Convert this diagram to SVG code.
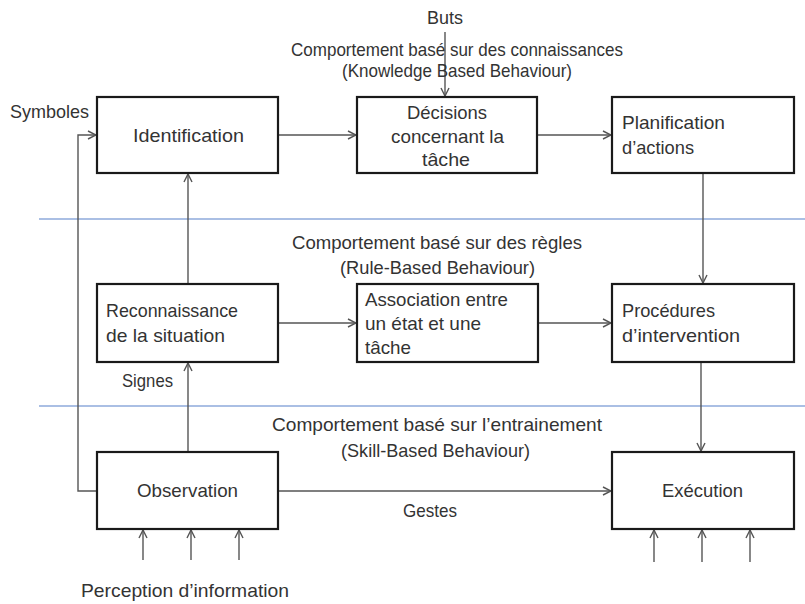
<svg xmlns="http://www.w3.org/2000/svg" width="805" height="604" viewBox="0 0 805 604">
  <style>
    .box { fill: #ffffff; stroke: #1a1a1a; stroke-width: 2.2; }
    .t { font-family: "Liberation Sans", Arial, sans-serif; font-size: 18.5px; fill: #333333; }
    .c { text-anchor: middle; }
    .conn { fill: none; stroke: #555555; stroke-width: 1.4; }
    .band { stroke: #8eaadb; stroke-width: 1.6; }
  </style>
  <defs>
    <marker id="arrow" viewBox="0 0 10 10" refX="10" refY="5" markerWidth="10" markerHeight="10" markerUnits="userSpaceOnUse" orient="auto">
      <path d="M2,1 L10,5 L2,9" fill="none" stroke="#555555" stroke-width="1.4"/>
    </marker>
  </defs>

  <rect width="805" height="604" fill="#ffffff"/>

  <!-- level separators -->
  <g id="bands">
    <line class="band" x1="39" y1="219" x2="805" y2="219"/>
    <line class="band" x1="39" y1="406" x2="805" y2="406"/>
  </g>

  <!-- connectors -->
  <g id="connectors" class="conn" marker-end="url(#arrow)">
    <path d="M445,32 V96"/>
    <path d="M278,135 H356"/>
    <path d="M537,135 H611"/>
    <path d="M703,173 V283"/>
    <path d="M188,284 V174"/>
    <path d="M97,491 H78 V135 H96"/>
    <path d="M278,323 H356"/>
    <path d="M538,323 H611"/>
    <path d="M188,452 V363"/>
    <path d="M701,362 V451"/>
    <path d="M278,491 H611"/>
    <path d="M143,560 V530"/>
    <path d="M191,560 V530"/>
    <path d="M239,560 V530"/>
    <path d="M654,562 V530"/>
    <path d="M702,562 V530"/>
    <path d="M750,562 V530"/>
  </g>

  <!-- level captions -->
  <g id="labels">
    <text class="t" x="427" y="24" textLength="36" lengthAdjust="spacingAndGlyphs">Buts</text>
    <text class="t" x="291" y="56" textLength="332" lengthAdjust="spacingAndGlyphs">Comportement basé sur des connaissances</text>
    <text class="t" x="342" y="77" textLength="230" lengthAdjust="spacingAndGlyphs">(Knowledge Based Behaviour)</text>
    <text class="t" x="10" y="118" textLength="79" lengthAdjust="spacingAndGlyphs">Symboles</text>
    <text class="t" x="292" y="249" textLength="290" lengthAdjust="spacingAndGlyphs">Comportement basé sur des règles</text>
    <text class="t" x="340" y="274" textLength="195" lengthAdjust="spacingAndGlyphs">(Rule-Based Behaviour)</text>
    <text class="t" x="122" y="387" textLength="51" lengthAdjust="spacingAndGlyphs">Signes</text>
    <text class="t" x="272" y="431" textLength="330" lengthAdjust="spacingAndGlyphs">Comportement basé sur l’entrainement</text>
    <text class="t" x="341" y="457" textLength="189" lengthAdjust="spacingAndGlyphs">(Skill-Based Behaviour)</text>
    <text class="t" x="403" y="517" textLength="54" lengthAdjust="spacingAndGlyphs">Gestes</text>
    <text class="t" x="81" y="597" textLength="208" lengthAdjust="spacingAndGlyphs">Perception d’information</text>
  </g>

  <!-- knowledge level -->
  <g id="identification">
    <rect class="box" x="97" y="97" width="181" height="76"/>
    <text class="t" x="133" y="142" textLength="111" lengthAdjust="spacingAndGlyphs">Identification</text>
  </g>
  <g id="decisions">
    <rect class="box" x="357" y="97" width="180" height="76"/>
    <text class="t" x="407" y="119" textLength="80" lengthAdjust="spacingAndGlyphs">Décisions</text>
    <text class="t" x="391" y="143" textLength="113" lengthAdjust="spacingAndGlyphs">concernant la</text>
    <text class="t" x="422" y="166" textLength="48" lengthAdjust="spacingAndGlyphs">tâche</text>
  </g>
  <g id="planification">
    <rect class="box" x="612" y="97" width="182" height="76"/>
    <text class="t" x="622" y="129" textLength="103" lengthAdjust="spacingAndGlyphs">Planification</text>
    <text class="t" x="622" y="154" textLength="72" lengthAdjust="spacingAndGlyphs">d’actions</text>
  </g>

  <!-- rule level -->
  <g id="reconnaissance">
    <rect class="box" x="97" y="284" width="181" height="78"/>
    <text class="t" x="106" y="317" textLength="132" lengthAdjust="spacingAndGlyphs">Reconnaissance</text>
    <text class="t" x="106" y="342" textLength="119" lengthAdjust="spacingAndGlyphs">de la situation</text>
  </g>
  <g id="association">
    <rect class="box" x="357" y="284" width="181" height="78"/>
    <text class="t" x="365" y="306" textLength="143" lengthAdjust="spacingAndGlyphs">Association entre</text>
    <text class="t" x="365" y="330" textLength="116" lengthAdjust="spacingAndGlyphs">un état et une</text>
    <text class="t" x="365" y="354" textLength="46" lengthAdjust="spacingAndGlyphs">tâche</text>
  </g>
  <g id="procedures">
    <rect class="box" x="612" y="284" width="182" height="78"/>
    <text class="t" x="622" y="317" textLength="93" lengthAdjust="spacingAndGlyphs">Procédures</text>
    <text class="t" x="622" y="342" textLength="118" lengthAdjust="spacingAndGlyphs">d’intervention</text>
  </g>

  <!-- skill level -->
  <g id="observation">
    <rect class="box" x="97" y="452" width="181" height="77"/>
    <text class="t" x="137" y="497" textLength="101" lengthAdjust="spacingAndGlyphs">Observation</text>
  </g>
  <g id="execution">
    <rect class="box" x="612" y="452" width="182" height="77"/>
    <text class="t" x="662" y="497" textLength="81" lengthAdjust="spacingAndGlyphs">Exécution</text>
  </g>
</svg>
